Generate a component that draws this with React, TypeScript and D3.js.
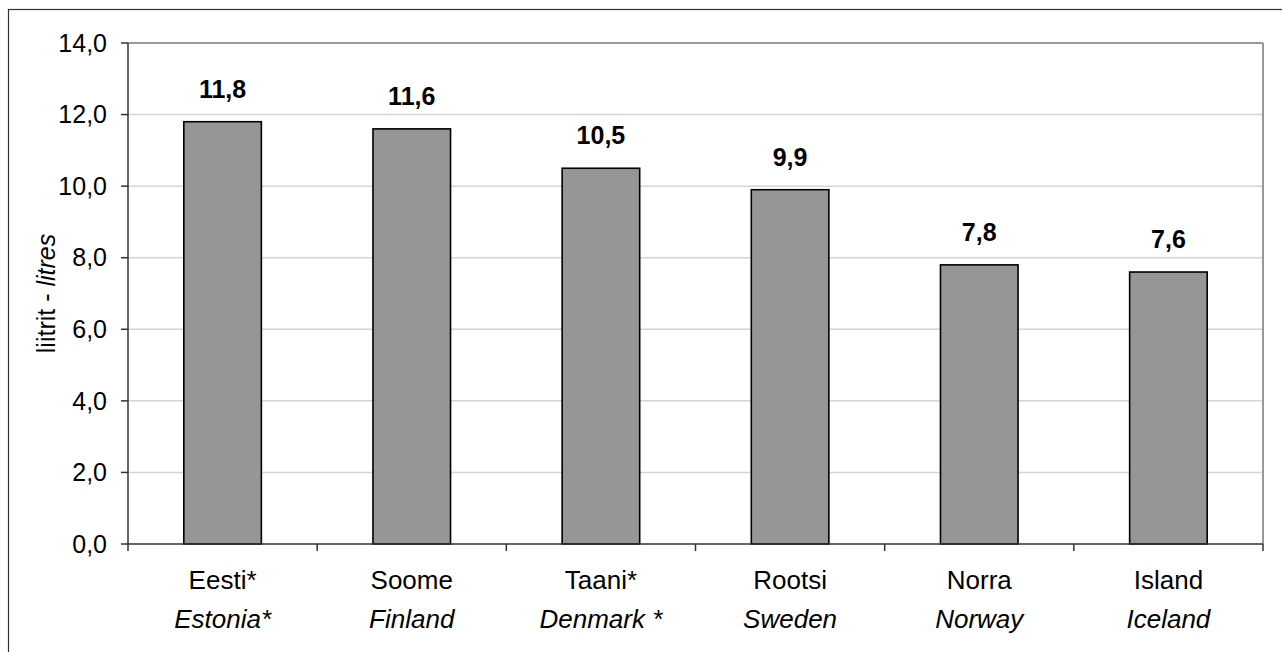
import React from "react";
import * as d3 from "d3";

const categoriesEt = ["Eesti*", "Soome", "Taani*", "Rootsi", "Norra", "Island"];
const categoriesEn = ["Estonia*", "Finland", "Denmark *", "Sweden", "Norway", "Iceland"];
const values = [11.8, 11.6, 10.5, 9.9, 7.8, 7.6];
const yTicks = [0, 2, 4, 6, 8, 10, 12, 14];

const W = 1282;
const H = 652;
const left = 128;
const right = 1263;
const top = 43;
const bottom = 544;
const FONT = "Arial, 'Liberation Sans', sans-serif";

export default function App() {
  const x = d3.scaleBand<number>().domain(d3.range(values.length)).range([left, right]).paddingInner(0).paddingOuter(0);
  const y = d3.scaleLinear().domain([0, 14]).range([bottom, top]);
  const bw = x.bandwidth() * 0.41;
  const fmt = (v: number) => v.toFixed(1).replace(".", ",");
  const boundaries = d3.range(values.length + 1).map((i) => left + i * x.bandwidth());

  return (
    <svg width={W} height={H} style={{ position: "absolute", left: 0, top: 0, background: "#fff" }} fontFamily={FONT}>
      <rect x={8.5} y={9.5} width={W} height={H} fill="#fff" stroke="#333" strokeWidth={1.2} />
      {yTicks.filter((t) => t > 0 && t < 14).map((t) => (
        <line key={"g" + t} x1={left} x2={right} y1={y(t)} y2={y(t)} stroke="#d4d4d4" strokeWidth={1.5} />
      ))}
      <line x1={left} x2={right} y1={top} y2={top} stroke="#999" strokeWidth={2} />
      <line x1={right} x2={right} y1={top} y2={bottom} stroke="#999" strokeWidth={2} />
      {values.map((v, i) => {
        const cx = (x(i) as number) + x.bandwidth() / 2;
        return (
          <g key={i}>
            <rect x={cx - bw / 2} y={y(v)} width={bw} height={bottom - y(v)} fill="#969696" stroke="#000" strokeWidth={1.6} />
            <text x={cx} y={y(v) - 24} textAnchor="middle" fontSize={25} fontWeight="bold" fill="#000">{fmt(v)}</text>
            <text x={cx} y={589} textAnchor="middle" fontSize={26} fill="#000">{categoriesEt[i]}</text>
            <text x={cx} y={628} textAnchor="middle" fontSize={26} fontStyle="italic" fill="#000">{categoriesEn[i]}</text>
          </g>
        );
      })}
      <line x1={left} x2={left} y1={top} y2={bottom} stroke="#333" strokeWidth={1.5} />
      <line x1={left} x2={right} y1={bottom} y2={bottom} stroke="#333" strokeWidth={1.5} />
      {yTicks.map((t) => (
        <g key={"t" + t}>
          <line x1={left - 7} x2={left} y1={y(t)} y2={y(t)} stroke="#333" strokeWidth={1.5} />
          <text x={107} y={y(t)} dy="0.35em" textAnchor="end" fontSize={25} fill="#000">{fmt(t)}</text>
        </g>
      ))}
      {boundaries.map((b, i) => (
        <line key={"b" + i} x1={b} x2={b} y1={bottom} y2={bottom + 7} stroke="#333" strokeWidth={1.5} />
      ))}
      <text transform={`translate(55,${(top + bottom) / 2}) rotate(-90)`} textAnchor="middle" fontSize={25} fill="#000">
        liitrit - <tspan fontStyle="italic">litres</tspan>
      </text>
    </svg>
  );
}
